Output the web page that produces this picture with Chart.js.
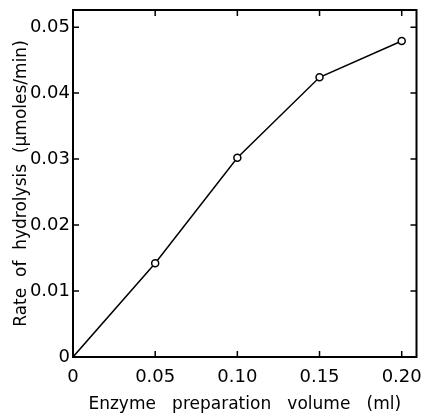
<!DOCTYPE html>
<html>
<head>
<meta charset="utf-8">
<script src="https://cdn.jsdelivr.net/npm/chart.js@4/dist/chart.umd.min.js"></script>
<style>
  html, body { margin: 0; padding: 0; background: #fff; }
  #wrap { width: 422px; height: 415px; }
</style>
</head>
<body>
<div id="wrap"><canvas id="chart"></canvas></div>
<script>
// data
const volumes = [0, 0.05, 0.10, 0.15, 0.20];
const rates = [0, 0.0142, 0.0302, 0.0424, 0.0479];
const xTicks = [0, 0.05, 0.10, 0.15, 0.20];
const xTickLabels = ['0', '0.05', '0.10', '0.15', '0.20'];
const yTicks = [0, 0.01, 0.02, 0.03, 0.04, 0.05];
const yTickLabels = ['0', '0.01', '0.02', '0.03', '0.04', '0.05'];

const font = 'DejaVu Sans';

// frame with inward tick marks on all four sides
const framePlugin = {
    id: 'frame',
    afterDraw(chart) {
        const { ctx, chartArea: a, scales } = chart;
        ctx.save();
        ctx.strokeStyle = '#000';
        ctx.lineWidth = 2;
        ctx.strokeRect(a.left, a.top, a.right - a.left, a.bottom - a.top);
        ctx.lineWidth = 1.5;
        ctx.beginPath();
        xTicks.forEach(v => {
            const x = scales.x.getPixelForValue(v);
            ctx.moveTo(x, a.bottom); ctx.lineTo(x, a.bottom - 6);
            ctx.moveTo(x, a.top); ctx.lineTo(x, a.top + 6);
        });
        yTicks.forEach(v => {
            const y = scales.y.getPixelForValue(v);
            ctx.moveTo(a.left, y); ctx.lineTo(a.left + 6, y);
            ctx.moveTo(a.right, y); ctx.lineTo(a.right - 6, y);
        });
        ctx.stroke();
        ctx.restore();
    }
};

new Chart(document.getElementById('chart'), {
    type: 'line',
    data: {
        datasets: [{
            data: volumes.map((v, i) => ({ x: v, y: rates[i] })),
            borderColor: '#000',
            borderWidth: 1.5,
            pointRadius: [0, 3.5, 3.5, 3.5, 3.5],
            pointBackgroundColor: '#fff',
            pointBorderColor: '#000',
            pointBorderWidth: 1.5,
            tension: 0
        }]
    },
    plugins: [framePlugin],
    options: {
        responsive: true,
        maintainAspectRatio: false,
        animation: false,
        layout: { padding: { left: 0, right: 3, top: 10, bottom: 0 } },
        plugins: { legend: { display: false }, tooltip: { enabled: false } },
        scales: {
            x: {
                type: 'linear',
                min: 0,
                max: 0.209,
                afterBuildTicks: s => { s.ticks = xTicks.map(v => ({ value: v })); },
                afterFit: s => { s.height = 58; s.paddingLeft = 0; s.paddingRight = 0; },
                grid: { display: false, drawTicks: false },
                border: { display: false },
                ticks: {
                    color: '#000',
                    padding: 10,
                    maxRotation: 0,
                    font: { family: font, size: 18 },
                    callback: (v, i) => xTickLabels[i]
                },
                title: {
                    display: true,
                    text: 'Enzyme   preparation   volume   (ml)',
                    color: '#000',
                    padding: { top: 1, bottom: 0 },
                    font: { family: font, size: 17 }
                }
            },
            y: {
                type: 'linear',
                min: 0,
                max: 0.0526,
                afterBuildTicks: s => { s.ticks = yTicks.map(v => ({ value: v })); },
                afterFit: s => { s.width = 73; s.paddingTop = 0; s.paddingBottom = 0; },
                grid: { display: false, drawTicks: false },
                border: { display: false },
                ticks: {
                    color: '#000',
                    padding: 3,
                    font: { family: font, size: 18 },
                    callback: (v, i) => yTickLabels[i]
                },
                title: {
                    display: true,
                    text: 'Rate  of  hydrolysis  (\u00b5moles/min)',
                    color: '#000',
                    padding: { top: 11, bottom: 0 },
                    font: { family: font, size: 17 }
                }
            }
        }
    }
});
</script>
</body>
</html>
